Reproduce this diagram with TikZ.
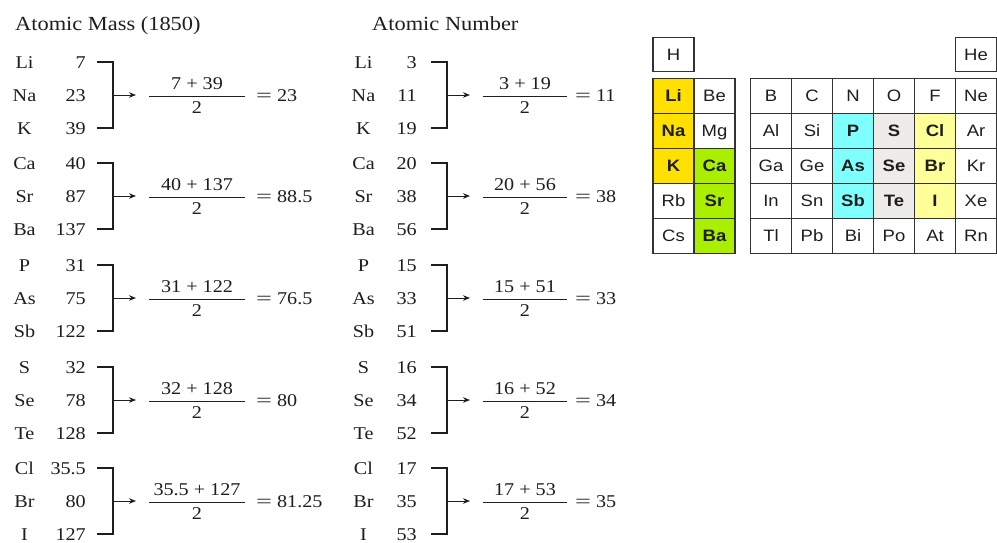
\documentclass[tikz,border=0pt]{standalone}
\usepackage{fontspec}
\setmainfont{Liberation Serif}[FakeStretch=1.12]
\newfontfamily\tabfont{Liberation Sans}[FakeStretch=1.12]
\usetikzlibrary{arrows.meta}
\definecolor{cYel}{HTML}{FFE000}
\definecolor{cGrn}{HTML}{AAEE00}
\definecolor{cCyn}{HTML}{80FFFF}
\definecolor{cGry}{HTML}{EEECE8}
\definecolor{cPal}{HTML}{FFFF99}
\definecolor{ink}{HTML}{1E1E1E}
\definecolor{grid}{HTML}{333333}
\newcommand{\wideeq}{\scalebox{1.4}[1]{=}\hspace{5pt}}
\begin{document}
\begin{tikzpicture}[x=1pt,y=-1pt,
  txt/.style={font=\fontsize{18}{20}\selectfont, inner sep=0pt, text height=12pt, text depth=0pt, text=ink},
  ttl/.style={font=\fontsize{20}{22}\selectfont, inner sep=0pt, text height=13pt, text depth=0pt, anchor=west, text=ink},
  brk/.style={line width=1.3pt, draw=ink},
  arr/.style={line width=1pt, draw=ink, -{Stealth[length=7pt,width=5.5pt]}},
  frl/.style={line width=1pt, draw=ink},
  cell/.style={draw=grid, line width=1.2pt, minimum width=41pt, minimum height=35pt, inner sep=0pt,
    font=\tabfont\fontsize{16.5}{18}\selectfont, text height=12pt, text depth=0pt, text=ink},
  hl/.style={cell, fill=#1, font=\tabfont\bfseries\fontsize{16.5}{18}\selectfont}
]
\useasboundingbox (0,0) rectangle (997,542);
\fill[white] (0,0) rectangle (997,542);

\node[ttl] (t1) at (15,23.5) {Atomic Mass (1850)};
\node[ttl] (t2) at (372,23.5) {Atomic Number};

\foreach \g/\ya/\ea/\eb/\ec/\ma/\mb/\mc/\mr/\za/\zb/\zc/\zr in {
  0/62/Li/Na/K/7/23/39/23/3/11/19/11,
  1/163/Ca/Sr/Ba/40/87/137/88.5/20/38/56/38,
  2/265/P/As/Sb/31/75/122/76.5/15/33/51/33,
  3/367/S/Se/Te/32/78/128/80/16/34/52/34,
  4/468/Cl/Br/I/35.5/80/127/81.25/17/35/53/35}
{
  \pgfmathsetmacro\yb{\ya+33}
  \pgfmathsetmacro\yc{\ya+66}
  % left column: atomic mass
  \node[txt] (La\g) at (24.5,\ya) {\ea};
  \node[txt] (Lb\g) at (24.5,\yb) {\eb};
  \node[txt] (Lc\g) at (24.5,\yc) {\ec};
  \node[txt,anchor=east] (ma\g) at (86,\ya) {\ma};
  \node[txt,anchor=east] (mb\g) at (86,\yb) {\mb};
  \node[txt,anchor=east] (mc\g) at (86,\yc) {\mc};
  \coordinate (mk\g) at (113,\yb);
  \coordinate (mt\g) at (136,\yb);
  \draw[brk] ([xshift=11pt]ma\g.east) -| (mk\g) |- ([xshift=11pt]mc\g.east);
  \draw[arr] (mk\g) -- (mt\g);
  \coordinate (mfl\g) at (149,\yb+1);
  \coordinate (mfr\g) at (245,\yb+1);
  \draw[frl] (mfl\g) -- (mfr\g);
  \node[txt] (mn\g) at (197,\yb-12) {\ma{} + \mc};
  \node[txt] (md\g) at (197,\yb+12.5) {2};
  \node[txt,anchor=west] (mr\g) at (256,\yb) {\wideeq\mr};
  % right column: atomic number
  \node[txt] (Ra\g) at (363.5,\ya) {\ea};
  \node[txt] (Rb\g) at (363.5,\yb) {\eb};
  \node[txt] (Rc\g) at (363.5,\yc) {\ec};
  \node[txt,anchor=east] (za\g) at (417,\ya) {\za};
  \node[txt,anchor=east] (zb\g) at (417,\yb) {\zb};
  \node[txt,anchor=east] (zc\g) at (417,\yc) {\zc};
  \coordinate (zk\g) at (447,\yb);
  \coordinate (zt\g) at (470,\yb);
  \draw[brk] ([xshift=14pt]za\g.east) -| (zk\g) |- ([xshift=14pt]zc\g.east);
  \draw[arr] (zk\g) -- (zt\g);
  \coordinate (zfl\g) at (483,\yb+1);
  \coordinate (zfr\g) at (567,\yb+1);
  \draw[frl] (zfl\g) -- (zfr\g);
  \node[txt] (zn\g) at (525,\yb-12) {\za{} + \zc};
  \node[txt] (zd\g) at (525,\yb+12.5) {2};
  \node[txt,anchor=west] (zr\g) at (575,\yb) {\wideeq\zr};
}

% periodic table
\node[cell,minimum height=34pt] (e-H) at (673.5,54.5) {H};
\node[cell,minimum height=34pt] (e-He) at (976,54.5) {He};
\foreach \s/\x/\y in {Be/714.5/95.8, Mg/714.5/130.8, Rb/673.5/200.8, Cs/673.5/235.8,
  B/771/95.8, C/812/95.8, N/853/95.8, O/894/95.8, F/935/95.8, Ne/976/95.8,
  Al/771/130.8, Si/812/130.8, Ar/976/130.8,
  Ga/771/165.8, Ge/812/165.8, Kr/976/165.8,
  In/771/200.8, Sn/812/200.8, Xe/976/200.8,
  Tl/771/235.8, Pb/812/235.8, Bi/853/235.8, Po/894/235.8, At/935/235.8, Rn/976/235.8}
  \node[cell] (e-\s) at (\x,\y) {\s};
\foreach \s/\x/\y/\c in {Li/673.5/95.8/cYel, Na/673.5/130.8/cYel, K/673.5/165.8/cYel,
  Ca/714.5/165.8/cGrn, Sr/714.5/200.8/cGrn, Ba/714.5/235.8/cGrn,
  P/853/130.8/cCyn, As/853/165.8/cCyn, Sb/853/200.8/cCyn,
  S/894/130.8/cGry, Se/894/165.8/cGry, Te/894/200.8/cGry,
  Cl/935/130.8/cPal, Br/935/165.8/cPal, I/935/200.8/cPal}
  \node[hl=\c] (e-\s) at (\x,\y) {\s};
\end{tikzpicture}
\end{document}
